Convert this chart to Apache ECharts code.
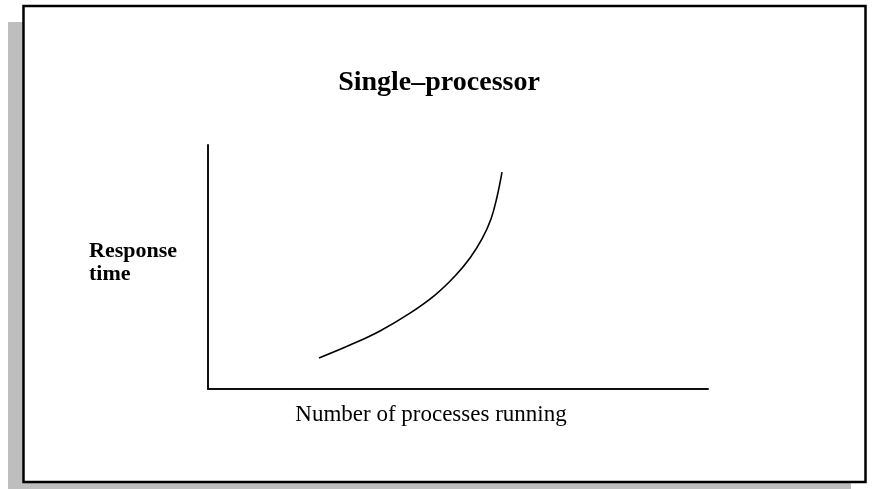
<!DOCTYPE html>
<html>
<head>
<meta charset="utf-8">
<script src="https://cdn.jsdelivr.net/npm/echarts@6/dist/echarts.min.js"></script>
<style>
  html, body { margin: 0; padding: 0; background: #ffffff; }
  #chart { width: 872px; height: 489px; }
</style>
</head>
<body>
<div id="chart"></div>
<script>
// Response time as the number of running processes grows (relative units)
const processes    = [22.2, 28.4, 34.4, 40.4, 45.4, 49.4, 52.4, 54.8, 56.6, 57.8, 58.8];
const responseTime = [12.7, 18.0, 23.8, 31.1, 38.5, 46.3, 53.7, 61.5, 69.7, 78.7, 88.9];

const titleText = 'Single\u2013processor';
const yLabelLines = ['Response', 'time'];
const xLabelText = 'Number of processes running';

const serif = '"Liberation Serif", "DejaVu Serif", serif';

const chart = echarts.init(document.getElementById('chart'), null, { renderer: 'canvas' });

chart.setOption({
  animation: false,
  backgroundColor: '#ffffff',
  grid: { left: 208, top: 145, width: 500, height: 244, containLabel: false },
  xAxis: {
    type: 'value', min: 0, max: 100,
    axisLine: { show: true, lineStyle: { color: '#111111', width: 2 } },
    axisTick: { show: false }, axisLabel: { show: false }, splitLine: { show: false }
  },
  yAxis: {
    type: 'value', min: 0, max: 100,
    axisLine: { show: true, lineStyle: { color: '#111111', width: 2 } },
    axisTick: { show: false }, axisLabel: { show: false }, splitLine: { show: false }
  },
  series: [{
    type: 'line',
    data: processes.map((p, i) => [p, responseTime[i]]),
    smooth: 0.4,
    symbol: 'none',
    lineStyle: { color: '#000000', width: 1.6 },
    z: 10
  }],
  graphic: [
    // drop shadow behind the panel
    { type: 'rect', z: -20, silent: true,
      shape: { x: 8, y: 22, width: 843, height: 480 },
      style: { fill: '#bebebe' } },
    // framed panel
    { type: 'rect', z: -10, silent: true,
      shape: { x: 23.5, y: 6, width: 842, height: 476 },
      style: { fill: '#ffffff', stroke: '#000000', lineWidth: 2.5 } },
    { type: 'text', z: 5, silent: true,
      style: { text: titleText, x: 439, y: 83, align: 'center', verticalAlign: 'middle',
               font: 'bold 28px ' + serif, fill: '#000000' } },
    { type: 'text', z: 5, silent: true,
      style: { text: yLabelLines[0], x: 89, y: 251, align: 'left', verticalAlign: 'middle',
               font: 'bold 22px ' + serif, fill: '#000000' } },
    { type: 'text', z: 5, silent: true,
      style: { text: yLabelLines[1], x: 89, y: 274, align: 'left', verticalAlign: 'middle',
               font: 'bold 22px ' + serif, fill: '#000000' } },
    { type: 'text', z: 5, silent: true,
      style: { text: xLabelText, x: 431, y: 415, align: 'center', verticalAlign: 'middle',
               font: '23px ' + serif, fill: '#000000' } }
  ]
});
</script>
</body>
</html>
